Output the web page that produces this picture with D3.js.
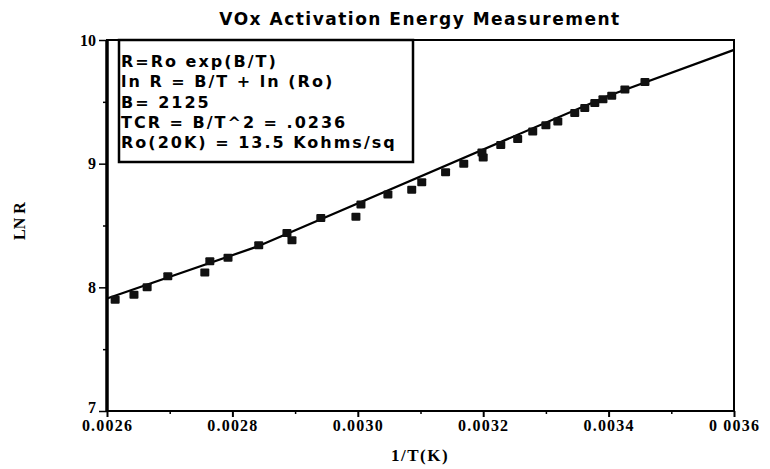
<!DOCTYPE html>
<html>
<head>
<meta charset="utf-8">
<script src="https://cdn.jsdelivr.net/npm/d3@7"></script>
<style>
  body { margin: 0; background: #fff; }
  #chart { width: 770px; height: 469px; }
</style>
</head>
<body>
<div id="chart"></div>
<script>

// measured points (1/T, ln R)
const invT = [0.002613, 0.002643, 0.002664, 0.002697, 0.002756, 0.002764, 0.002793, 0.002842,
              0.002887, 0.002895, 0.002941, 0.002997, 0.003005, 0.003048, 0.003086, 0.003102,
              0.003140, 0.003169, 0.003200, 0.003198, 0.003228, 0.003255, 0.003279, 0.003300,
              0.003319, 0.003346, 0.003362, 0.003378, 0.003391, 0.003405, 0.003426, 0.003458];
const lnR  = [7.90, 7.94, 8.00, 8.09, 8.12, 8.21, 8.24, 8.34,
              8.44, 8.38, 8.56, 8.57, 8.67, 8.75, 8.79, 8.85,
              8.93, 9.00, 9.05, 9.09, 9.15, 9.20, 9.26, 9.31,
              9.34, 9.41, 9.45, 9.49, 9.52, 9.55, 9.60, 9.66];

// fit line as traced on the (slightly warped) scan
const fitX = [0.0026, 0.00284, 0.0034, 0.0036];
const fitY = [7.91, 8.33, 9.55, 9.92];

const xTicks = [0.0026, 0.0028, 0.0030, 0.0032, 0.0034, 0.0036];
const xTickLabels = ["0.0026", "0.0028", "0.0030", "0.0032", "0.0034", "0 0036"];
const xMinor = [0.0027, 0.0029, 0.0031, 0.0033, 0.0035];
const yTicks = [7, 8, 9, 10];
const yMinor = [7.5, 8.5, 9.5];

const notes = ["R=Ro exp(B/T)", "ln R = B/T + ln (Ro)", "B= 2125", "TCR = B/T^2 = .0236", "Ro(20K) = 13.5 Kohms/sq"];

const rootDOM = document.getElementById("chart");
const W = 770, H = 469;
const m = {t:40, l:107, b:58, r:36};
const w = W - m.l - m.r;
const h = H - m.t - m.b;

const scaleX = d3.scaleLinear().domain([0.0026, 0.0036]).range([0, w]);
const scaleY = d3.scaleLinear().domain([7, 10]).range([h, 0]);

const svg = d3.select(rootDOM).append("svg")
    .attr("width", W)
    .attr("height", H);

svg.append("text")
    .attr("x", 420).attr("y", 25)
    .attr("text-anchor", "middle")
    .style("font-family", "'DejaVu Sans', sans-serif")
    .style("font-weight", "bold")
    .style("font-size", "17px")
    .style("letter-spacing", "1.5px")
    .text("VOx Activation Energy Measurement");

const plot = svg.append("g").attr("transform", `translate(${m.l},${m.t})`);

// frame
plot.append("rect")
    .attr("width", w).attr("height", h)
    .attr("fill", "none").attr("stroke", "#000").attr("stroke-width", 2);
plot.append("line")
    .attr("x1", 0).attr("x2", 0).attr("y1", 0).attr("y2", h)
    .attr("stroke", "#000").attr("stroke-width", 3.5);

const serif = "'Liberation Serif', 'Times New Roman', serif";

const axisX = d3.axisBottom(scaleX)
    .tickValues(xTicks)
    .tickFormat((d, i) => xTickLabels[i])
    .tickSize(6)
    .tickPadding(3);
const gx = plot.append("g").attr("transform", `translate(0,${h})`).call(axisX);
gx.select(".domain").remove();
gx.selectAll("line").attr("stroke-width", 2);
gx.selectAll("text")
    .style("font-family", serif).style("font-size", "16px").style("font-weight", "bold")
    .style("letter-spacing", "1.2px");

const gxm = plot.append("g").attr("transform", `translate(0,${h})`)
    .call(d3.axisBottom(scaleX).tickValues(xMinor).tickSize(3).tickFormat(""));
gxm.select(".domain").remove();
gxm.selectAll("line").attr("stroke-width", 1.5);

const axisY = d3.axisLeft(scaleY)
    .tickValues(yTicks)
    .tickFormat(d3.format("d"))
    .tickSize(8)
    .tickPadding(3);
const gy = plot.append("g").call(axisY);
gy.select(".domain").remove();
gy.selectAll("line").attr("stroke-width", 1.5);
gy.selectAll("text")
    .attr("dy", d => d === 7 ? "0.1em" : "0.32em")
    .style("font-family", serif).style("font-size", "16px").style("font-weight", "bold");

const gym = plot.append("g")
    .call(d3.axisLeft(scaleY).tickValues(yMinor).tickSize(4).tickFormat(""));
gym.select(".domain").remove();
gym.selectAll("line").attr("stroke-width", 1.5);

// fit line
const lineGenerator = d3.line()
    .x(d => scaleX(d[0]))
    .y(d => scaleY(d[1]));
plot.append("path")
    .datum(fitX.map((x, i) => [x, fitY[i]]))
    .attr("d", lineGenerator)
    .attr("fill", "none").attr("stroke", "#000").attr("stroke-width", 2.2);

// points
plot.selectAll(".pt")
    .data(invT.map((x, i) => [x, lnR[i]]))
    .join("rect")
    .attr("class", "pt")
    .attr("x", d => scaleX(d[0]) - 4.5)
    .attr("y", d => scaleY(d[1]) - 4)
    .attr("width", 9).attr("height", 8)
    .attr("rx", 1)
    .attr("fill", "#111");

// notes box
const box = plot.append("g").attr("transform", "translate(12,0)");
box.append("rect")
    .attr("width", 294).attr("height", 122)
    .attr("fill", "#fff").attr("stroke", "#000").attr("stroke-width", 2.5);
box.selectAll("text")
    .data(notes)
    .join("text")
    .attr("x", 2)
    .attr("y", (d, i) => 27 + i * 20.3)
    .style("font-family", "'DejaVu Sans', sans-serif")
    .style("font-weight", "bold")
    .style("font-size", "16px")
    .style("letter-spacing", "2px")
    .text(d => d);

// axis titles
svg.append("text")
    .attr("x", 420).attr("y", 461)
    .attr("text-anchor", "middle")
    .style("font-family", serif).style("font-weight", "bold").style("font-size", "17px")
    .style("letter-spacing", "1.5px")
    .text("1/T(K)");

svg.append("text")
    .attr("transform", "translate(25,221) rotate(-90)")
    .attr("text-anchor", "middle")
    .style("font-family", serif).style("font-weight", "bold").style("font-size", "16px")
    .text("LN R");

</script>
</body>
</html>
